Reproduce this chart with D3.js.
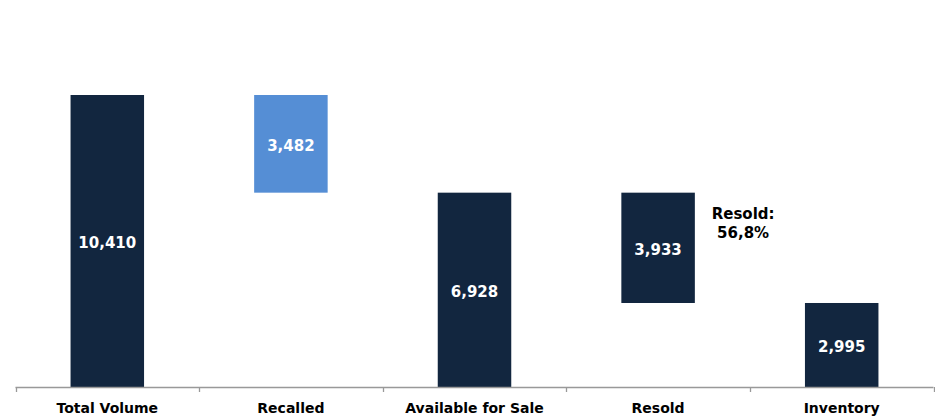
<!DOCTYPE html>
<html>
<head>
<meta charset="utf-8">
<script src="https://cdn.jsdelivr.net/npm/d3@7"></script>
<style>
  html, body { margin: 0; padding: 0; background: #fff; }
  svg { display: block; }
</style>
</head>
<body>
<svg id="chart" width="935" height="417"></svg>
<script>
// Waterfall steps: category, value, and whether the bar floats (starts from a running level)
const categories = ["Total Volume", "Recalled", "Available for Sale", "Resold", "Inventory"];
const values = [10410, 3482, 6928, 3933, 2995];
// kind: "total" bars rise from zero, "down" bars hang from the previous level
const kinds = ["total", "down", "total", "down", "total"];
const barColors = ["#12263f", "#558ed5", "#12263f", "#12263f", "#12263f"];
const noteLines = ["Resold:", "56,8%"];

const svg = d3.select("#chart");
const W = 935, H = 417;
const margin = { left: 15.5, right: 1.5, top: 95, bottom: 30 };
const baseY = 387;

const x = d3.scaleBand()
  .domain(categories)
  .range([margin.left, W - margin.right])
  .paddingInner(0)
  .paddingOuter(0);

const y = d3.scaleLinear()
  .domain([0, values[0]])
  .range([baseY, margin.top]);

// Compute start/end level of each step
let level = 0;
const steps = categories.map((c, i) => {
  let lo, hi;
  if (kinds[i] === "total") {
    lo = 0; hi = values[i]; level = values[i];
  } else {
    hi = level; lo = level - values[i]; level = lo;
  }
  return { cat: c, value: values[i], lo, hi, color: barColors[i] };
});

const barW = 73.5;

const g = svg.append("g");

g.selectAll("rect.bar")
  .data(steps)
  .join("rect")
  .attr("class", "bar")
  .attr("x", d => x(d.cat) + x.bandwidth() / 2 - barW / 2)
  .attr("width", barW)
  .attr("y", d => y(d.hi))
  .attr("height", d => y(d.lo) - y(d.hi))
  .attr("fill", d => d.color);

g.selectAll("text.val")
  .data(steps)
  .join("text")
  .attr("class", "val")
  .attr("x", d => x(d.cat) + x.bandwidth() / 2)
  .attr("y", d => (y(d.lo) + y(d.hi)) / 2)
  .attr("dy", "0.45em")
  .attr("text-anchor", "middle")
  .attr("fill", "#fff")
  .attr("font-family", "Tahoma, 'DejaVu Sans', Verdana, sans-serif")
  .attr("font-weight", "bold")
  .attr("font-size", 15)
  .text(d => d3.format(",")(d.value));

// Axis with tick marks at band boundaries
const axisG = svg.append("g").attr("transform", `translate(0,${baseY})`);
axisG.append("line")
  .attr("x1", margin.left).attr("x2", W - margin.right)
  .attr("y1", 0.5).attr("y2", 0.5)
  .attr("stroke", "#999").attr("stroke-width", 1.3);

const bounds = categories.map(c => x(c)).concat([x(categories[categories.length - 1]) + x.bandwidth()]);
axisG.selectAll("line.tick")
  .data(bounds)
  .join("line")
  .attr("class", "tick")
  .attr("x1", d => Math.round(d) + 0.5).attr("x2", d => Math.round(d) + 0.5)
  .attr("y1", 0).attr("y2", 5)
  .attr("stroke", "#999").attr("stroke-width", 1.3);

axisG.selectAll("text.cat")
  .data(categories)
  .join("text")
  .attr("class", "cat")
  .attr("x", d => x(d) + x.bandwidth() / 2)
  .attr("y", 26)
  .attr("text-anchor", "middle")
  .attr("fill", "#000")
  .attr("font-family", "Tahoma, 'DejaVu Sans', Verdana, sans-serif")
  .attr("font-weight", "bold")
  .attr("font-size", 14)
  .text(d => d);

// Share note beside the Resold bar
const resold = steps[3];
const noteX = x(resold.cat) + x.bandwidth() / 2 + 85;
svg.append("g").selectAll("text")
  .data(noteLines)
  .join("text")
  .attr("x", noteX)
  .attr("y", (d, i) => 219 + i * 19)
  .attr("text-anchor", "middle")
  .attr("fill", "#000")
  .attr("font-family", "Tahoma, 'DejaVu Sans', Verdana, sans-serif")
  .attr("font-weight", "bold")
  .attr("font-size", 15)
  .text(d => d);
</script>
</body>
</html>
